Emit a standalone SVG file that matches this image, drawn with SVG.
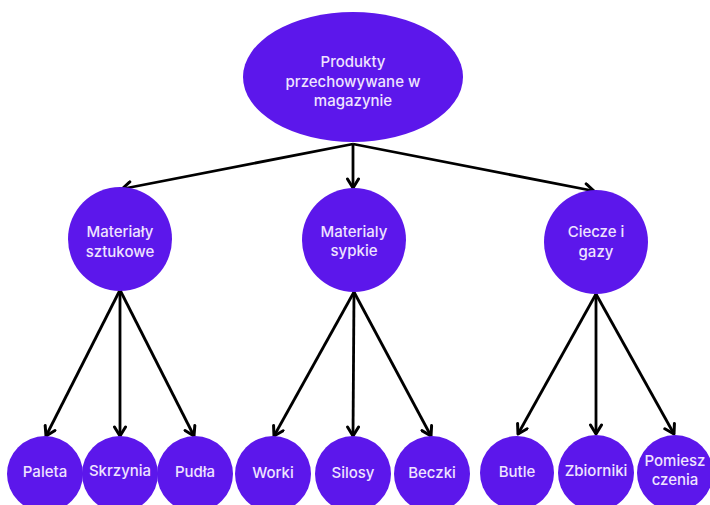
<svg xmlns="http://www.w3.org/2000/svg" width="710" height="505" viewBox="0 0 710 505">
<defs>
<marker id="arr" viewBox="0 0 14 14" refX="11" refY="7" markerWidth="14" markerHeight="14" markerUnits="userSpaceOnUse" orient="auto">
<path d="M2,1.5 L11,7 L2,12.5" fill="none" stroke="#000" stroke-width="3" stroke-linecap="round" stroke-linejoin="round"/>
</marker>
<style>
.n{fill:#5c17eb}
.t{fill:#efe3ff;font-family:Inter,"Open Sans",sans-serif;font-size:15px;font-weight:500;text-anchor:middle}
.c line{stroke:#000;stroke-width:2.8;marker-end:url(#arr)}
</style>
</defs>
<rect width="710" height="505" fill="#fff"/>
<g class="c" id="connectors">
<line x1="353" y1="144" x2="122" y2="189"/>
<line x1="353" y1="144" x2="353" y2="188"/>
<line x1="353" y1="144" x2="594" y2="191"/>
<line x1="120" y1="290" x2="46" y2="436"/>
<line x1="120" y1="290" x2="120" y2="436"/>
<line x1="120" y1="290" x2="194" y2="436"/>
<line x1="354" y1="292" x2="274" y2="436"/>
<line x1="354" y1="292" x2="353" y2="436"/>
<line x1="354" y1="292" x2="431" y2="436"/>
<line x1="596" y1="294" x2="518" y2="434"/>
<line x1="596" y1="294" x2="596" y2="434"/>
<line x1="596" y1="294" x2="674" y2="434"/>
</g>
<g id="root"><ellipse class="n" cx="353" cy="77" rx="110" ry="65"/>
<text class="t" x="353" y="67" font-size="16">Produkty</text>
<text class="t" x="353" y="87" font-size="16">przechowywane w</text>
<text class="t" x="353" y="106" font-size="16">magazynie</text></g>
<g id="sztukowe"><circle class="n" cx="120" cy="239" r="52"/>
<text class="t" x="120" y="237">Materiały</text><text class="t" x="120" y="257">sztukowe</text></g>
<g id="sypkie"><circle class="n" cx="354" cy="240" r="52"/>
<text class="t" x="354" y="237">Materialy</text><text class="t" x="354" y="256">sypkie</text></g>
<g id="ciecze"><circle class="n" cx="596" cy="242" r="52"/>
<text class="t" x="596" y="237">Ciecze i</text><text class="t" x="596" y="257">gazy</text></g>
<g id="paleta"><circle class="n" cx="45" cy="474" r="38"/><text class="t" x="45" y="477">Paleta</text></g>
<g id="skrzynia"><circle class="n" cx="120" cy="474" r="38"/><text class="t" x="120" y="476" font-size="11.5">Skrzynia</text></g>
<g id="pudla"><circle class="n" cx="195" cy="474" r="38"/><text class="t" x="195" y="477">Pudła</text></g>
<g id="worki"><circle class="n" cx="273" cy="474" r="38"/><text class="t" x="273" y="478">Worki</text></g>
<g id="silosy"><circle class="n" cx="353" cy="474" r="38"/><text class="t" x="353" y="478">Silosy</text></g>
<g id="beczki"><circle class="n" cx="432" cy="474" r="38"/><text class="t" x="432" y="478">Beczki</text></g>
<g id="butle"><circle class="n" cx="517" cy="473" r="37"/><text class="t" x="517" y="477">Butle</text></g>
<g id="zbiorniki"><circle class="n" cx="596" cy="473" r="38"/><text class="t" x="596" y="476" font-size="12.5">Zbiorniki</text></g>
<g id="pomieszczenia"><circle class="n" cx="675" cy="473" r="38"/><text class="t" x="675" y="466" font-size="12">Pomiesz</text><text class="t" x="675" y="485" font-size="12">czenia</text></g>
</svg>
